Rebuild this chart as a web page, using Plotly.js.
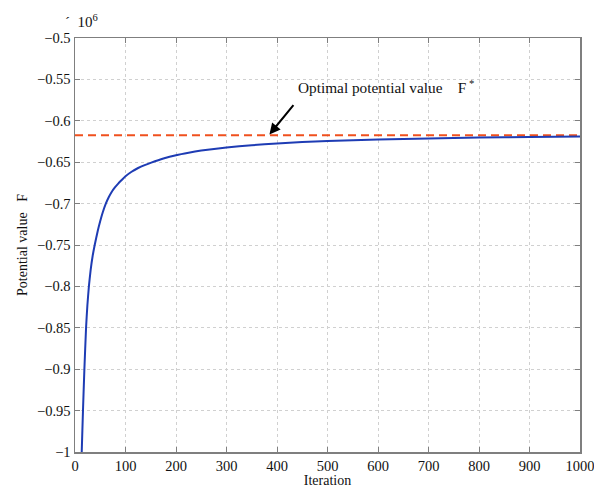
<!DOCTYPE html>
<html><head><meta charset="utf-8">
<script src="https://cdn.plot.ly/plotly-3.0.1.min.js"></script>
<style>html,body{margin:0;padding:0;background:#fff}</style>
</head><body>
<div id="chart" style="width:594px;height:488px"></div>
<script>
// Iterations and potential value F (in units of 10^6)
const iterations = [12.8,13.3,15.8,18.6,21.9,24.5,27.5,31,35,39,45,50,55,61,67,72,79,86,93,100,112,125,138,151,175,200,225,250,300,350,400,450,500,600,700,800,900,1000];
const potential = [-1.012,-1.0,-0.95,-0.9,-0.85,-0.823,-0.8,-0.78,-0.763,-0.75,-0.733,-0.721,-0.7105,-0.70,-0.692,-0.6865,-0.6805,-0.6755,-0.6712,-0.667,-0.6615,-0.657,-0.6535,-0.6505,-0.6455,-0.6415,-0.6385,-0.636,-0.6322,-0.6295,-0.6273,-0.6257,-0.6244,-0.6226,-0.6213,-0.6203,-0.6196,-0.619];
const optimalX = [0, 1000];
const optimalY = [-0.6175, -0.6175];
const xTickVals = [0,100,200,300,400,500,600,700,800,900,1000];
const yTickVals = [-0.5,-0.55,-0.6,-0.65,-0.7,-0.75,-0.8,-0.85,-0.9,-0.95,-1];
const yTickText = ['\u22120.5','\u22120.55','\u22120.6','\u22120.65','\u22120.7','\u22120.75','\u22120.8','\u22120.85','\u22120.9','\u22120.95','\u22121'];

const font = 'Liberation Serif';
const traces = [
  {x: optimalX, y: optimalY, mode: 'lines', line: {color: '#f0501e', width: 2, dash: '8px,5px'}, hoverinfo: 'skip'},
  {x: iterations, y: potential, mode: 'lines', line: {color: '#1e3cb4', width: 2, shape: 'spline', smoothing: 0.5}, hoverinfo: 'skip'}
];
const axisCommon = {
  showline: true, mirror: 'ticks', linecolor: '#7f7f7f', linewidth: 1.5,
  ticks: 'inside', ticklen: 5, tickcolor: '#7f7f7f', tickwidth: 1,
  showgrid: true, gridcolor: '#d0d0d0', griddash: 'dot', gridwidth: 1,
  zeroline: false, ticklabeloverflow: 'allow',
  tickfont: {family: font, size: 14.5, color: '#111'}
};
const layout = {
  width: 594, height: 488,
  margin: {l: 75, r: 14, t: 38, b: 36},
  paper_bgcolor: '#fff', plot_bgcolor: '#fff',
  showlegend: false,
  font: {family: font, color: '#111'},
  xaxis: Object.assign({}, axisCommon, {
    range: [0, 1000], tickmode: 'array', tickvals: xTickVals,
    title: {text: 'Iteration', font: {family: font, size: 14}, standoff: 0}
  }),
  yaxis: Object.assign({}, axisCommon, {
    range: [-1, -0.5], tickmode: 'array', tickvals: yTickVals, ticktext: yTickText,
    title: {text: 'Potential value &nbsp;&nbsp;F', font: {family: font, size: 14}, standoff: 6}
  }),
  annotations: [
    {xref: 'x', yref: 'y', x: 385, y: -0.6165, ax: 27, ay: -33, text: ' ', showarrow: true,
     arrowhead: 2, arrowsize: 1.1, arrowwidth: 2, arrowcolor: '#000'},
    {xref: 'x', yref: 'y', x: 437, y: -0.559, xanchor: 'left', yanchor: 'middle', showarrow: false,
     text: 'Optimal potential value &nbsp;&nbsp;&nbsp;F<sup> *</sup>', font: {family: font, size: 15.3, color: '#111'}},
    {xref: 'paper', yref: 'paper', x: -0.024, y: 1.04, xanchor: 'left', yanchor: 'middle', showarrow: false,
     text: '\u00b4 &nbsp;10<sup>6</sup>', font: {family: font, size: 15, color: '#111'}}
  ]
};
Plotly.newPlot('chart', traces, layout, {displayModeBar: false, staticPlot: true});
</script>
</body></html>
